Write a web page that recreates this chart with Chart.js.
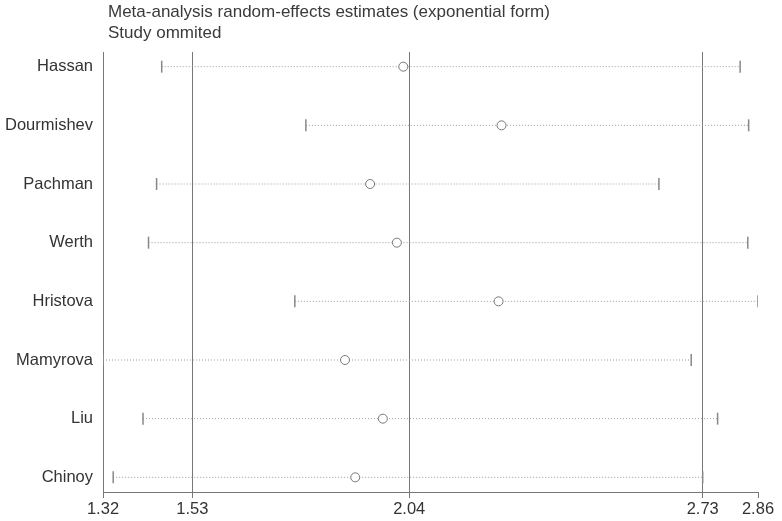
<!DOCTYPE html>
<html lang="en">
<head>
    <meta charset="UTF-8" />
    <title>Study omitted</title>
    <script src="https://cdn.jsdelivr.net/npm/chart.js"></script>
    <style>
        html, body {
          margin: 0;
          padding: 0;
          background: #fff;
        }
    </style>
</head>
<body>

<canvas id="infChart" width="782" height="521"></canvas>

<script>
    // values (exponential form)
    const studies = ['Hassan', 'Dourmishev', 'Pachman', 'Werth', 'Hristova', 'Mamyrova', 'Liu', 'Chinoy'];
    const estimate = [2.026, 2.257, 1.948, 2.011, 2.250, 1.889, 1.978, 1.913];
    const lower = [1.458, 1.797, 1.446, 1.427, 1.771, 1.32, 1.414, 1.344];
    const upper = [2.818, 2.838, 2.627, 2.836, 2.86, 2.703, 2.765, 2.73];
    const xTicks = [1.32, 1.53, 2.04, 2.73, 2.86];
    const refLines = [1.53, 2.04, 2.73];
    const titleLines = ['Meta-analysis random-effects estimates (exponential form)', 'Study ommited'];

    const FONT = "'Liberation Sans', Arial, sans-serif";

    const ciSets = studies.map((name, i) => ({
      label: name,
      data: [{ x: lower[i], y: i }, { x: upper[i], y: i }],
      showLine: true,
      borderColor: '#9a9a9a',
      borderWidth: 1,
      borderDash: [1, 2],
      pointStyle: 'line',
      rotation: 90,
      pointRadius: 6,
      pointBorderColor: '#888',
      pointBorderWidth: 1.5,
      order: 1
    }));

    const estSet = {
      label: 'Estimate',
      data: estimate.map((v, i) => ({ x: v, y: i })),
      pointStyle: 'circle',
      pointRadius: 4.5,
      pointBorderColor: '#777',
      pointBorderWidth: 1,
      pointBackgroundColor: '#fff',
      order: 0
    };

    const titleText = {
      id: 'titleText',
      afterDraw(chart) {
        const ctx = chart.ctx;
        ctx.save();
        ctx.font = '17px ' + FONT;
        ctx.fillStyle = '#3a3a3a';
        ctx.textBaseline = 'middle';
        ctx.textAlign = 'left';
        titleLines.forEach((t, i) => ctx.fillText(t, 108, 12 + i * 21));
        ctx.restore();
      }
    };

    new Chart(document.getElementById('infChart'), {
      type: 'scatter',
      data: { datasets: [estSet, ...ciSets] },
      plugins: [titleText],
      options: {
        responsive: false,
        animation: false,
        layout: { padding: { top: 52, right: 24, left: 0, bottom: 0 } },
        plugins: {
          legend: { display: false },
          tooltip: { enabled: false },
          title: { display: false }
        },
        scales: {
          x: {
            type: 'linear',
            min: 1.32,
            max: 2.86,
            afterBuildTicks: axis => { axis.ticks = xTicks.map(v => ({ value: v })); },
            afterFit: axis => { axis.height = 29; },
            ticks: {
              autoSkip: false,
              maxRotation: 0,
              padding: 2,
              color: '#333',
              font: { family: FONT, size: 16.5 },
              callback: v => v.toFixed(2)
            },
            grid: {
              color: c => refLines.includes(c.tick && c.tick.value) ? '#777' : 'rgba(0,0,0,0)',
              tickColor: '#777',
              tickLength: 6,
              lineWidth: 1
            },
            border: { display: true, color: '#777', width: 1 }
          },
          y: {
            type: 'linear',
            min: -0.25,
            max: 7.25,
            reverse: true,
            afterBuildTicks: axis => { axis.ticks = studies.map((n, i) => ({ value: i })); },
            afterFit: axis => { axis.width = 103; },
            ticks: {
              autoSkip: false,
              padding: 10,
              color: '#333',
              font: { family: FONT, size: 16.5 },
              callback: v => studies[v]
            },
            grid: { display: false, drawTicks: false },
            border: { display: true, color: '#777', width: 1 }
          }
        }
      }
    });
</script>
</body>
</html>
